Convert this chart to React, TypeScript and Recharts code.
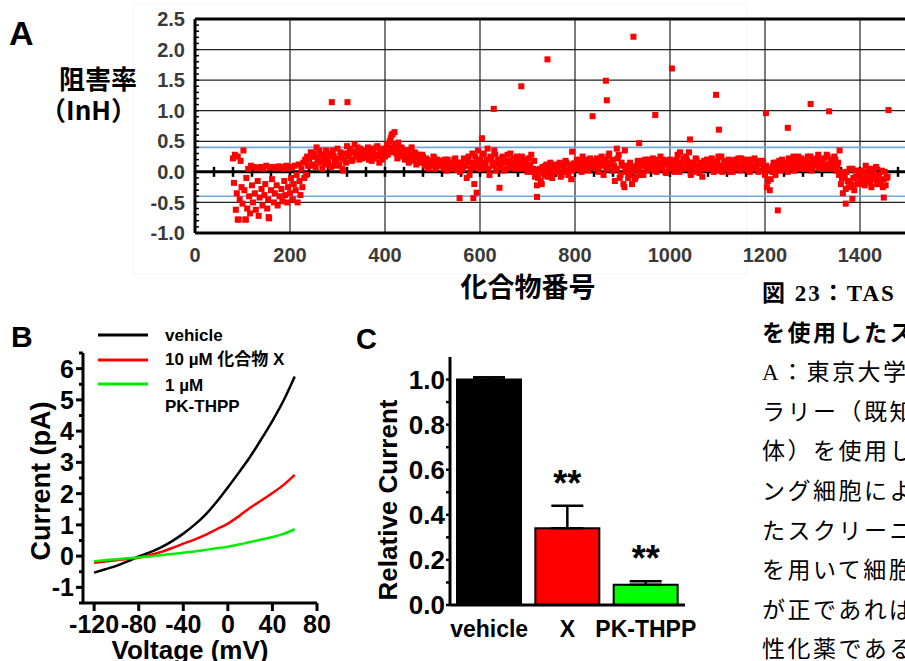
import React from "react";
import {
  ScatterChart, Scatter, XAxis, YAxis, ReferenceLine,
  LineChart, Line, BarChart, Bar, Cell, ErrorBar, LabelList,
} from "recharts";

// ---------- A: library screen, InH per compound ----------
const earlyFirst = 80; // compound no. of the first value (one value every 2 compounds)
const earlyStep = 2;
const earlyInh = [
  0.22, -0.18, 0.28, -0.62, -0.35, 0.25, -0.78, -0.45, 0.18, -0.25,
  -0.52, 0.35, -0.3, -0.78, -0.1, -0.6, 0.05, -0.4, -0.68, 0.1,
  -0.22, -0.5, 0.08, -0.35, -0.62, 0.06, -0.15, -0.72, -0.42, 0.08,
  -0.28, -0.55, 0.05, -0.38, -0.2, 0.1, -0.6, -0.45, -0.76, 0.07,
  -0.3, -0.12, 0.08, -0.5, -0.35, 0.06, -0.22, -0.55, 0.09, -0.4,
  0.08, -0.28, -0.48, 0.05, -0.15, -0.38, 0.1, -0.5, -0.25, 0.06,
  -0.35, -0.1, 0.08, -0.45, -0.2, 0.1, -0.3, -0.05, -0.5, 0.12,
  -0.15, -0.38, 0.05, -0.25, 0.15, -0.1, 0.2, -0.05, 0.25, 0.1,
];
const bandFirst = 240; // then one value every 4 compounds, two interleaved runs
const bandStep = 4;
const bandInh = [
  0.2, 0.32, 0.12, 0.25, 0.4, 0.18, 0.28, 0.05, 0.22, 0.35,
  0.15, 0.3, 0.1, 0.26, 0.2, 0.38, 0.12, 0.24, 0.02, 0.3,
  0.42, 0.25, 0.35, 0.2, 0.45, 0.3, 0.28, 0.38, 0.22, 0.33,
  0.25, 0.4, 0.3, 0.18, 0.35, 0.28, 0.42, 0.15, 0.3, 0.38,
  0.25, 0.45, 0.35, 0.55, 0.62, 0.4, 0.3, 0.48, 0.28, 0.38,
  0.3, 0.22, 0.35, 0.25, 0.4, 0.18, 0.3, 0.22, 0.28, 0.15,
  0.25, 0.1, 0.2, 0.05, 0.18, 0.12, 0.22, 0.08, 0.15, 0.1,
  0.18, 0.05, 0.12, 0.2, 0.08, 0.15, 0.1, 0.22, 0.03, 0.12,
  0.15, 0.08, 0.2, -0.1, 0.25, 0.05, 0.3, -0.2, 0.12, 0.35,
  0.2, 0.05, 0.3, 0.15, 0.38, -0.05, 0.22, 0.1, 0.28, 0.12,
  0.2, 0.08, 0.25, 0.15, 0.05, 0.18, 0.3, 0.1, 0.22, 0.12,
  0.18, 0.05, 0.25, 0.12, 0.2, 0.0, 0.1, 0.28, 0.05, -0.08,
  -0.22, 0.0, -0.15, 0.08, -0.05, 0.12, 0.02, 0.15, -0.1, 0.05,
  0.1, 0.0, 0.15, -0.05, 0.08, 0.18, 0.02, 0.12, -0.12, 0.06,
  0.12, 0.2, 0.05, 0.15, 0.25, 0.08, 0.18, 0.02, 0.22, 0.1,
  0.15, 0.05, 0.2, 0.1, 0.25, -0.05, 0.18, 0.08, 0.3, 0.12,
  0.2, -0.15, 0.05, 0.28, -0.05, 0.1, -0.25, 0.0, -0.1, 0.15,
  -0.2, 0.05, -0.08, 0.18, 0.02, 0.12, -0.05, 0.2, 0.08, 0.15,
  0.05, 0.22, 0.1, 0.0, 0.15, 0.25, 0.08, 0.18, -0.02, 0.12,
  0.2, 0.05, 0.15, 0.1, 0.28, 0.0, 0.12, 0.22, 0.05, 0.18,
  0.1, -0.05, 0.15, 0.08, 0.2, 0.02, 0.12, -0.08, 0.18, 0.05,
  0.15, 0.1, 0.22, 0.0, 0.12, 0.18, 0.05, 0.25, 0.08, 0.15,
  0.05, 0.2, 0.1, 0.0, 0.15, 0.08, 0.22, 0.02, 0.12, 0.18,
  0.08, 0.15, 0.0, 0.2, 0.1, 0.05, 0.18, 0.12, 0.02, 0.15,
  -0.05, -0.25, 0.05, -0.12, 0.08, 0.0, 0.15, 0.05, 0.1, 0.2,
  0.08, 0.15, 0.0, 0.2, 0.1, 0.25, 0.05, 0.18, 0.12, 0.22,
  0.1, 0.2, 0.05, 0.15, 0.25, 0.08, 0.18, 0.12, 0.28, 0.05,
  0.15, 0.22, 0.08, 0.25, 0.12, 0.18, 0.05, 0.2, 0.1, -0.05,
  -0.2, -0.35, -0.1, 0.0, -0.25, -0.15, 0.05, -0.3, -0.08, -0.18,
  0.02, -0.2, -0.1, 0.1, -0.15, -0.05, -0.25, 0.05, -0.12, -0.2,
  -0.05, -0.15, -0.25, 0.0, -0.1,
];
const bandFirst2 = 242;
const bandInh2 = [
  0.1, 0.25, 0.3, 0.08, 0.2, 0.35, 0.15, 0.28, 0.12, 0.18,
  0.25, 0.08, 0.35, 0.18, 0.1, 0.22, 0.32, 0.05, 0.2, 0.15,
  0.3, 0.38, 0.18, 0.32, 0.25, 0.4, 0.2, 0.3, 0.35, 0.25,
  0.32, 0.2, 0.38, 0.28, 0.22, 0.4, 0.25, 0.33, 0.2, 0.3,
  0.35, 0.28, 0.5, 0.4, 0.32, 0.45, 0.22, 0.35, 0.4, 0.25,
  0.2, 0.35, 0.15, 0.3, 0.22, 0.32, 0.12, 0.25, 0.18, 0.28,
  0.15, 0.22, 0.08, 0.18, 0.1, 0.25, 0.05, 0.2, 0.12, 0.18,
  0.1, 0.2, 0.02, 0.15, 0.12, 0.05, 0.2, 0.1, 0.15, 0.0,
  0.05, 0.22, 0.1, 0.18, -0.05, 0.15, 0.08, 0.25, 0.18, 0.05,
  0.12, 0.28, 0.08, 0.2, 0.05, 0.25, 0.15, 0.35, 0.02, 0.18,
  0.12, 0.22, 0.02, 0.18, 0.28, 0.08, 0.15, 0.2, 0.05, 0.25,
  0.1, 0.2, 0.08, 0.15, 0.05, 0.22, 0.12, 0.0, 0.18, 0.02,
  -0.1, 0.05, -0.2, -0.02, 0.1, -0.08, 0.08, -0.05, 0.12, 0.0,
  0.05, 0.12, -0.08, 0.1, 0.0, 0.15, -0.05, 0.08, 0.02, 0.14,
  0.05, 0.12, 0.18, 0.0, 0.1, 0.2, 0.05, 0.15, 0.08, 0.18,
  0.08, 0.22, 0.0, 0.15, 0.1, 0.2, 0.05, 0.25, 0.15, 0.02,
  0.1, 0.05, 0.22, -0.1, 0.15, -0.2, 0.05, 0.1, -0.05, 0.08,
  0.0, -0.12, 0.1, 0.05, -0.05, 0.18, 0.1, 0.02, 0.2, 0.05,
  0.15, 0.02, 0.2, 0.12, 0.05, 0.1, 0.2, 0.0, 0.15, 0.08,
  0.1, 0.18, 0.0, 0.2, 0.08, 0.15, 0.05, 0.1, 0.25, 0.08,
  0.05, 0.15, 0.0, 0.22, 0.1, -0.02, 0.15, 0.05, 0.1, 0.2,
  0.05, 0.2, 0.08, 0.15, 0.02, 0.25, 0.1, 0.0, 0.18, 0.1,
  0.15, 0.0, 0.18, 0.08, 0.2, 0.05, 0.12, 0.22, 0.05, 0.1,
  0.2, 0.02, 0.12, 0.08, 0.22, 0.1, 0.0, 0.15, 0.18, 0.05,
  0.1, -0.15, -0.3, 0.0, 0.15, -0.05, 0.08, 0.18, 0.02, 0.12,
  0.15, 0.05, 0.22, 0.08, 0.18, 0.02, 0.12, 0.25, 0.05, 0.15,
  0.18, 0.05, 0.25, 0.1, 0.02, 0.2, 0.1, 0.22, 0.08, 0.18,
  0.05, 0.12, 0.28, 0.05, 0.2, 0.1, 0.25, 0.02, 0.15, 0.0,
  -0.1, -0.05, -0.28, -0.15, 0.05, -0.22, -0.1, 0.02, -0.2, -0.05,
  -0.12, 0.0, -0.22, -0.05, 0.05, -0.18, -0.1, -0.02, 0.08, -0.15,
  -0.2, 0.02, -0.12, -0.22, -0.08,
];
// isolated points away from the band
const hitCompounds = [
  288, 321, 629, 687, 742, 837, 865, 867, 923, 969, 1004, 1042, 1097, 1103,
  1202, 1227, 1248, 1296, 1335, 1460, 935, 1357, 557, 586, 593, 641, 720,
  794, 1370, 1384, 1450, 90, 107, 155, 604, 420, 414, 1021, 1040, 888, 905,
];
const hitInh = [
  1.14, 1.14, 1.03, 1.4, 1.84, 0.91, 1.49, 1.17, 2.21, 0.93, 1.69, 0.53, 1.26, 0.69,
  0.96, -0.63, 0.72, 1.11, 0.99, 1.01, 0.47, 0.35, -0.43, -0.43, -0.34, -0.26, -0.41,
  0.33, -0.52, -0.44, -0.42, -0.78, -0.78, -0.74, 0.55, 0.65, 0.6, 0.32, 0.32, 0.38, 0.35,
];
const screenXTicks = [0, 200, 400, 600, 800, 1000, 1200, 1400, 1600];
const screenGridX = [200, 400, 600, 800, 1000, 1200, 1400];
const screenGridY = [-0.5, 0.5, 1, 1.5, 2];
const screenYTicks = [
  -1, -0.9, -0.8, -0.7, -0.6, -0.5, -0.4, -0.3, -0.2, -0.1, 0, 0.1, 0.2, 0.3, 0.4, 0.5,
  0.6, 0.7, 0.8, 0.9, 1, 1.1, 1.2, 1.3, 1.4, 1.5, 1.6, 1.7, 1.8, 1.9, 2, 2.1, 2.2, 2.3, 2.4, 2.5,
];
const zeroAxisTicks = [
  40, 80, 120, 160, 200, 240, 280, 320, 360, 400, 440, 480, 520, 560, 600, 640, 680, 720,
  760, 800, 840, 880, 920, 960, 1000, 1040, 1080, 1120, 1160, 1200, 1240, 1280, 1320, 1360,
  1400, 1440, 1480, 1520, 1560,
];
const cutoffs = [0.4, -0.4];

// ---------- B: I-V curves ----------
const ivVoltage = [-120, -110, -100, -90, -80, -70, -60, -50, -40, -30, -20, -10, 0, 10, 20, 30, 40, 50, 60];
const ivVehicle = [-0.53, -0.42, -0.31, -0.17, -0.01, 0.12, 0.28, 0.48, 0.72, 1.0, 1.33, 1.74, 2.2, 2.68, 3.18, 3.74, 4.33, 4.98, 5.75];
const ivCompoundX = [-0.21, -0.17, -0.13, -0.09, -0.05, 0.03, 0.13, 0.26, 0.4, 0.53, 0.68, 0.86, 1.04, 1.28, 1.55, 1.78, 2.02, 2.28, 2.6];
const ivPkThpp = [-0.16, -0.13, -0.1, -0.07, -0.04, -0.01, 0.03, 0.07, 0.11, 0.15, 0.2, 0.25, 0.3, 0.37, 0.45, 0.53, 0.61, 0.71, 0.86];
const ivXTicks = [-120, -80, -40, 0, 40, 80];
const ivYTicks = [-1.5, -1, -0.5, 0, 0.5, 1, 1.5, 2, 2.5, 3, 3.5, 4, 4.5, 5, 5.5, 6, 6.5];

// ---------- C: relative current ----------
const relNames = ["vehicle", "X", "PK-THPP"];
const relValues = [1.0, 0.34, 0.09];
const relErr = [0.01, 0.1, 0.015];
const relSig = ["", "**", "**"];
const relColors = ["#000000", "#ff0000", "#00ff00"];
const relYTicks = [0, 0.1, 0.2, 0.3, 0.4, 0.5, 0.6, 0.7, 0.8, 0.9, 1.0];

const captionLines = [
  "を使用したス",
  "A：東京大学",
  "ラリー（既知",
  "体）を使用し",
  "ング細胞によ",
  "たスクリーニ",
  "を用いて細胞",
  "が正であれば",
  "性化薬である",
];

const SANS = "'Liberation Sans', Arial, 'Noto Sans CJK JP', sans-serif";
const NARROW = "'Liberation Sans Narrow', 'Arial Narrow', 'Liberation Sans', Arial, sans-serif";
const CJK = "'Noto Sans CJK JP', sans-serif";
const SERIF = "'Liberation Serif', 'Times New Roman', 'Noto Sans CJK JP', serif";

const screenPts = [
  ...earlyInh.map((y, i) => ({ x: earlyFirst + i * earlyStep, y })),
  ...bandInh.map((y, i) => ({ x: bandFirst + i * bandStep, y })),
  ...bandInh2.map((y, i) => ({ x: bandFirst2 + i * bandStep, y })),
];
const hitPts = hitCompounds.map((x, i) => ({ x, y: hitInh[i] }));
const zeroTickPts = zeroAxisTicks.map((x) => ({ x, y: 0 }));

const ivRows = ivVoltage.map((v, i) => ({
  v, vehicle: ivVehicle[i], cx: ivCompoundX[i], pk: ivPkThpp[i],
}));

const relRows = relNames.map((name, i) => ({
  name, value: relValues[i], errRange: [0, relErr[i]], sig: relSig[i],
}));

const redSquare = (p: any) => (
  <rect x={p.cx - 3} y={p.cy - 3} width={6} height={6} fill="#ff0000" />
);
const zeroTick = (p: any) => (
  <line x1={p.cx} x2={p.cx} y1={p.cy - 5} y2={p.cy + 5} stroke="#000" strokeWidth={2.5} />
);

function ScreenYTick(props: any) {
  const { x, y, payload } = props;
  const v = payload.value;
  const major = Math.abs(v * 2 - Math.round(v * 2)) < 1e-6;
  return (
    <g>
      <line x1={x + 8} x2={x + 12} y1={y} y2={y} stroke="#000" strokeWidth={1.5} />
      {major && (
        <text x={x - 2} y={y} dy="0.36em" textAnchor="end" fontSize={20} fontWeight={700}
          fill="#3a3a3a" fontFamily={NARROW}>{v.toFixed(1)}</text>
      )}
    </g>
  );
}

function IvYTick(props: any) {
  const { x, y, payload } = props;
  const v = payload.value;
  const major = Number.isInteger(v);
  return (
    <g>
      <line x1={x + 9} x2={x + (major ? 2 : 5)} y1={y} y2={y} stroke="#000" strokeWidth={3} />
      {major && (
        <text x={x} y={y} dy="0.36em" textAnchor="end" fontSize={25} fontWeight={700}
          fill="#000" fontFamily={SANS}>{v}</text>
      )}
    </g>
  );
}

function RelYTick(props: any) {
  const { x, y, payload } = props;
  const v = payload.value;
  const major = Math.round(v * 10) % 2 === 0;
  return (
    <g>
      <line x1={x + 5} x2={x + 1} y1={y} y2={y} stroke="#000" strokeWidth={2.5} />
      {major && (
        <text x={x} y={y} dy="0.36em" textAnchor="end" fontSize={26} fontWeight={700}
          fill="#000" fontFamily={SANS}>{v.toFixed(1)}</text>
      )}
    </g>
  );
}

function SigLabel(props: any) {
  const { x, y, width, height, value, index } = props;
  if (!value) return null;
  const errPx = (height * relErr[index]) / relValues[index];
  return (
    <text x={x + width / 2} y={y - errPx - 10} textAnchor="middle" fontSize={36}
      fontWeight={700} fill="#000" fontFamily={SANS}>{value}</text>
  );
}

const axisStroke = { stroke: "#000", strokeWidth: 3 };

export default function App() {
  return (
    <div style={{
      position: "absolute", left: 0, top: 0, width: 905, height: 661,
      overflow: "hidden", background: "#fff", fontFamily: SANS,
    }}>
      <div style={{
        position: "absolute", left: 133, top: 3, width: 612, height: 270,
        border: "1px solid #f5f5f5",
      }} />

      {/* A */}
      <div style={{ position: "absolute", left: 0, top: 0 }}>
        <ScatterChart width={955} height={273} margin={{ top: 19, right: 0, bottom: 0, left: 0 }}>
          <XAxis type="number" dataKey="x" domain={[0, 1600]} ticks={screenXTicks} interval={0}
            height={40} tickLine={false} tickSize={0} tickMargin={15} axisLine={axisStroke}
            tick={{ fontSize: 20, fontWeight: 700, fill: "#3a3a3a", fontFamily: NARROW }} />
          <YAxis type="number" dataKey="y" domain={[-1, 2.5]} ticks={screenYTicks} interval={0}
            width={195} tickLine={false} tickSize={0} tickMargin={8} axisLine={axisStroke}
            tick={<ScreenYTick />} />
          {screenGridY.map((v) => (
            <ReferenceLine key={"gy" + v} y={v} stroke="#222" strokeWidth={1.2} />
          ))}
          {screenGridX.map((v) => (
            <ReferenceLine key={"gx" + v} x={v} stroke="#222" strokeWidth={1.2} />
          ))}
          <ReferenceLine y={2.5} stroke="#000" strokeWidth={3} />
          {cutoffs.map((v) => (
            <ReferenceLine key={"c" + v} y={v} stroke="#6fa8dc" strokeWidth={1.6} />
          ))}
          <ReferenceLine y={0} stroke="#000" strokeWidth={3} />
          <Scatter data={zeroTickPts} shape={zeroTick} isAnimationActive={false} />
          <Scatter data={screenPts} shape={redSquare} isAnimationActive={false} />
          <Scatter data={hitPts} shape={redSquare} isAnimationActive={false} />
        </ScatterChart>
      </div>

      {/* B */}
      <div style={{ position: "absolute", left: 0, top: 340 }}>
        <LineChart width={340} height={321} data={ivRows} margin={{ top: 13, right: 23, bottom: 0, left: 0 }}>
          <XAxis type="number" dataKey="v" domain={[-130, 80]} ticks={ivXTicks} interval={0}
            height={58} tickSize={8} tickMargin={4} axisLine={axisStroke}
            tickLine={{ stroke: "#000", strokeWidth: 3 }}
            tick={{ fontSize: 25, fontWeight: 700, fill: "#000", fontFamily: SANS }} />
          <YAxis type="number" domain={[-1.5, 6.5]} ticks={ivYTicks} interval={0} width={83}
            tickLine={false} tickSize={0} tickMargin={9} axisLine={axisStroke} tick={<IvYTick />} />
          <Line type="monotone" dataKey="vehicle" stroke="#000" strokeWidth={2.5} dot={false} isAnimationActive={false} />
          <Line type="monotone" dataKey="cx" stroke="#ff0000" strokeWidth={2.5} dot={false} isAnimationActive={false} />
          <Line type="monotone" dataKey="pk" stroke="#00ee00" strokeWidth={2.5} dot={false} isAnimationActive={false} />
        </LineChart>
      </div>

      {/* C */}
      <div style={{ position: "absolute", left: 340, top: 340 }}>
        <BarChart width={360} height={321} data={relRows} barSize={64}
          margin={{ top: 17, right: 15, bottom: 0, left: 0 }}>
          <XAxis dataKey="name" height={56} interval={0} tickLine={false} tickSize={0} tickMargin={16}
            axisLine={axisStroke} tick={{ fontSize: 23, fontWeight: 700, fill: "#000", fontFamily: SANS }} />
          <YAxis type="number" domain={[0, 1.1]} ticks={relYTicks} interval={0} width={110}
            tickLine={false} tickSize={0} tickMargin={5} axisLine={axisStroke} tick={<RelYTick />} />
          <Bar dataKey="value" stroke="#000" strokeWidth={2} isAnimationActive={false}>
            {relColors.map((c, i) => <Cell key={i} fill={c} />)}
            <ErrorBar dataKey="errRange" width={16} strokeWidth={2.5} stroke="#000" />
            <LabelList dataKey="sig" content={<SigLabel />} />
          </Bar>
        </BarChart>
      </div>

      {/* titles, legend and caption */}
      <svg width={905} height={661} style={{ position: "absolute", left: 0, top: 0, pointerEvents: "none" }}>
        <text x={9} y={45} fontSize={34} fontWeight={700} fontFamily={SANS}>A</text>
        <text x={137} y={89} textAnchor="end" fontSize={26} fontWeight={700} fontFamily={CJK}>阻害率</text>
        <text x={137} y={120} textAnchor="end" fontSize={26} fontWeight={700} fontFamily={CJK}>（InH）</text>
        <text x={528} y={297} textAnchor="middle" fontSize={27} fontWeight={700} fontFamily={CJK}>化合物番号</text>

        <text x={11} y={347} fontSize={30} fontWeight={700} fontFamily={SANS}>B</text>
        <text x={50} y={481} textAnchor="middle" fontSize={27} fontWeight={700} fontFamily={SANS}
          transform="rotate(-90 50 481)">Current (pA)</text>
        <text x={190} y={659} textAnchor="middle" fontSize={26} fontWeight={700} fontFamily={SANS}>Voltage (mV)</text>
        <line x1={98} x2={148} y1={335} y2={335} stroke="#000" strokeWidth={3} />
        <line x1={98} x2={148} y1={360} y2={360} stroke="#ff0000" strokeWidth={3} />
        <line x1={98} x2={148} y1={384} y2={384} stroke="#00ee00" strokeWidth={3} />
        <text x={165} y={341} fontSize={17} fontWeight={700} fontFamily={SANS}>vehicle</text>
        <text x={165} y={365} fontSize={17} fontWeight={700} fontFamily={SANS}>10 µM 化合物 X</text>
        <text x={165} y={391} fontSize={17} fontWeight={700} fontFamily={SANS}>1 µM</text>
        <text x={165} y={412} fontSize={17} fontWeight={700} fontFamily={SANS}>PK-THPP</text>

        <text x={356} y={349} fontSize={29} fontWeight={700} fontFamily={SANS}>C</text>
        <text x={397} y={500} textAnchor="middle" fontSize={26} fontWeight={700} fontFamily={SANS}
          transform="rotate(-90 397 500)">Relative Current</text>

        <text x={762} y={301} fontSize={23} letterSpacing={2} fontWeight={700} fontFamily={SERIF}>図 23：TAS</text>
        {captionLines.map((s, i) => (
          <text key={i} x={762} y={301 + (i + 1) * 39.6} fontSize={23} letterSpacing={2.5}
            fontWeight={i === 0 ? 700 : 400} fontFamily={SERIF}>{s}</text>
        ))}
      </svg>
    </div>
  );
}
